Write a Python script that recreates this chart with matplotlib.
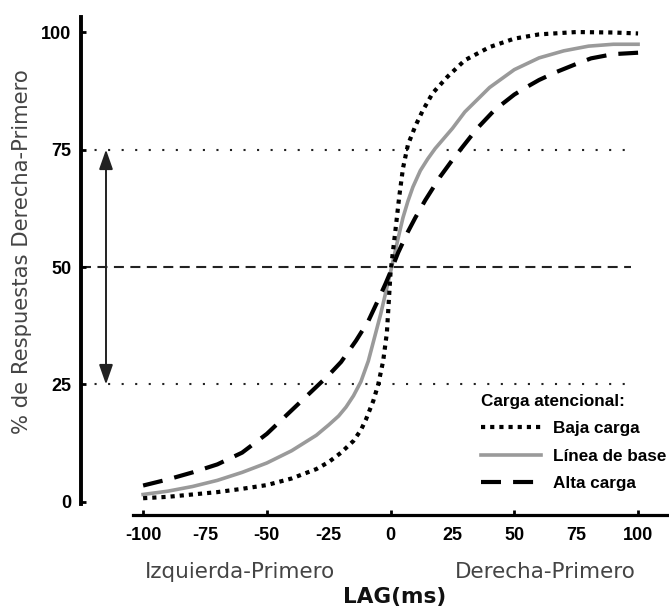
import matplotlib
matplotlib.use("Agg")
import matplotlib.pyplot as plt

# data
lag_baja = [-100, -90, -80, -70, -60, -50, -40, -30, -25, -20, -15, -12, -10,
            -7, -5, -3, -1.5, 0, 2, 3.5, 5, 7, 10, 13, 17, 23, 30, 40, 50,
            60, 75, 90, 100]
pct_baja = [0.8, 1.1, 1.6, 2.1, 2.8, 3.6, 5.0, 7.0, 8.5, 10.5, 13.0, 15.3,
            17.5, 21.5, 25.0, 30.0, 36.0, 49.0, 58.0, 65.0, 71.0, 76.0, 80.0,
            83.3, 87.0, 90.5, 94.0, 96.8, 98.6, 99.5, 100.0, 99.9, 99.7]

lag_base = [-100, -90, -80, -70, -60, -50, -40, -30, -25, -21, -18, -15, -12,
            -9, -6.5, -4, -2, 0, 3, 5, 7, 9, 12, 15, 18, 25, 30, 40, 50, 60,
            70, 80, 90, 100]
pct_base = [1.6, 2.3, 3.3, 4.6, 6.3, 8.3, 10.9, 14.2, 16.4, 18.3, 20.2, 22.6,
            25.6, 30.0, 35.0, 40.0, 44.5, 49.0, 56.0, 60.5, 64.0, 67.0, 70.5,
            73.0, 75.2, 79.5, 83.0, 88.2, 92.0, 94.5, 96.0, 97.0, 97.4, 97.4]

lag_alta = [-100, -90, -80, -70, -60, -50, -40, -31, -25, -20, -14, -9, -5, -2,
            0, 3, 7, 10, 14, 20, 25, 29, 35, 42, 50, 55, 60, 67, 75, 81, 90, 100]
pct_alta = [3.5, 4.8, 6.3, 8.0, 10.5, 14.5, 19.5, 24.0, 27.0, 29.8, 34.3, 38.5,
            43.0, 46.5, 49.0, 53.0, 57.5, 60.5, 64.2, 69.2, 72.8, 75.5, 79.5,
            83.4, 86.7, 88.3, 89.8, 91.5, 93.2, 94.4, 95.3, 95.6]

x_ticks = [-100, -75, -50, -25, 0, 25, 50, 75, 100]
y_ticks = [0, 25, 50, 75, 100]

W, H = 669, 610
fig = plt.figure(figsize=(W / 100, H / 100), dpi=100)
ax = fig.add_axes([81 / W, (H - 515) / H, (W - 81) / W, (515 - 17) / H])

# reference lines
ax.plot([-125, 97], [75, 75], color="#222222", lw=1.5, dashes=(1, 5.5), zorder=1)
ax.plot([-125, 97], [25, 25], color="#222222", lw=1.5, dashes=(1, 5.5), zorder=1)
ax.plot([-125, 97], [50, 50], color="#222222", lw=1.5, dashes=(4.8, 3.1), zorder=1)

# curves
ax.plot(lag_base, pct_base, color="#9a9a9a", lw=2.6, zorder=2,
        label="Línea de base")
ax.plot(lag_alta, pct_alta, color="black", lw=3, dashes=(4.8, 2.9), zorder=3,
        label="Alta carga")
ax.plot(lag_baja, pct_baja, color="black", lw=3, dashes=(1, 1.2), zorder=4,
        label="Baja carga")

# double arrow between 25 and 75
ax.annotate("", xy=(-115, 75), xytext=(-115, 25),
            arrowprops=dict(arrowstyle="<|-|>,head_length=1.0,head_width=0.35",
                            mutation_scale=12, color="#222222", lw=1.4,
                            shrinkA=0, shrinkB=0))

ax.set_xlim(-125.1, 112.5)
ax.set_ylim(-2.77, 103.2)

for s in ["top", "right"]:
    ax.spines[s].set_visible(False)
ax.spines["left"].set_linewidth(2.8)
ax.spines["bottom"].set_linewidth(2.3)
ax.spines["left"].set_bounds(-0.4, 103.2)
ax.spines["bottom"].set_bounds(-104, 112.5)

tick_font = {"family": "Liberation Sans", "weight": "bold", "size": 13}
ax.set_yticks(y_ticks)
ax.set_yticklabels([str(v) for v in y_ticks], fontdict=tick_font)
ax.set_xticks([v for v in x_ticks if v % 50 == 0])
ax.set_xticklabels([str(v) for v in x_ticks if v % 50 == 0], fontdict=tick_font)
ax.set_xticks([v for v in x_ticks if v % 50 != 0], minor=True)
ax.set_xticklabels([str(v) for v in x_ticks if v % 50 != 0], fontdict=tick_font,
                   minor=True)
ax.tick_params(axis="both", which="major", direction="in", length=3.5, width=2)
ax.tick_params(axis="x", which="both", pad=9)
ax.tick_params(axis="x", which="minor", length=0)
ax.tick_params(axis="y", pad=7)

# axis texts
lab_color = "#444444"
fig.text(22 / W, 1 - 252 / H, "% de Respuestas Derecha-Primero", rotation=90,
         ha="center", va="center", fontsize=15.2, color=lab_color,
         family="DejaVu Sans")
fig.text(240 / W, 1 - 572 / H, "Izquierda-Primero", ha="center", va="center",
         fontsize=15.5, color=lab_color, family="DejaVu Sans")
fig.text(545 / W, 1 - 572 / H, "Derecha-Primero", ha="center", va="center",
         fontsize=15.5, color=lab_color, family="DejaVu Sans")
fig.text(395 / W, 1 - 597 / H, "LAG(ms)", ha="center", va="center",
         fontsize=15.5, fontweight="bold", color="#111111", family="DejaVu Sans")

# legend
handles, labels = ax.get_legend_handles_labels()
order = [2, 0, 1]
leg_font = {"family": "Liberation Sans", "weight": "bold", "size": 12.3}
leg = ax.legend([handles[i] for i in order], [labels[i] for i in order],
                title="Carga atencional:", title_fontproperties=leg_font,
                prop=leg_font, alignment="left", frameon=False,
                loc="upper left", bbox_to_anchor=(481 / W, 1 - 394 / H),
                bbox_transform=fig.transFigure, borderpad=0, borderaxespad=0,
                handlelength=3.5, handletextpad=0.7, labelspacing=0.72)

fig.savefig("out.png", dpi=100)
